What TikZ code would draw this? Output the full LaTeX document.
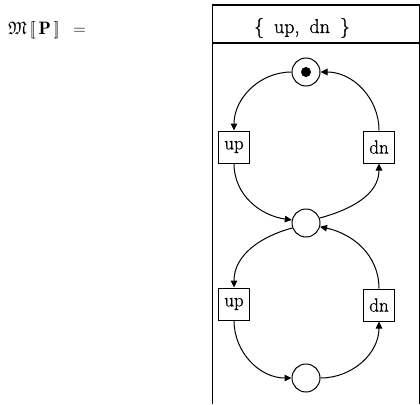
\documentclass[tikz,border=0pt]{standalone}
\usepackage{amssymb}
\usepackage{fontspec}
\newfontfamily\heavylm{Latin Modern Roman}[FakeBold=0.9]
\usetikzlibrary{arrows.meta}
\begin{document}
\begin{tikzpicture}[x=1pt,y=-1pt,
  place/.style={circle,draw,line width=1pt,minimum size=28pt,inner sep=0pt},
  trans/.style={rectangle,draw,line width=1pt,minimum width=31pt,minimum height=32pt,inner sep=0pt,font=\heavylm\fontsize{19}{19}\selectfont},
  flow/.style={line width=1pt,-{Triangle[length=7pt,width=6.5pt]}},
  frameline/.style={line width=1.4pt},
  token/.style={circle,fill,inner sep=0pt,minimum size=10pt}]
\useasboundingbox (0,0) rectangle (420,404);
% title
\node[anchor=base west,inner sep=0pt,font=\fontsize{18}{18}\selectfont] (title) at (8,35)
  {$\mathfrak{M}\,[\![\,\mathbf{P}\,]\!]\enspace=$};
% frame
\coordinate (ftl) at (212,5);
\coordinate (ftr) at (420,5);
\coordinate (fhl) at (212,43);
\coordinate (fhr) at (420,43);
\coordinate (fbl) at (212,404);
\coordinate (fbr) at (419,404);
\coordinate (ftr2) at (419,5);
\draw[frameline] (ftl) -- (ftr);
\draw[frameline] (fhl) -- (fhr);
\draw[line width=1pt] (ftl) -- (fbl);
\draw[line width=1pt] (ftr2) -- (fbr);
\node[anchor=base,inner sep=0pt,font=\heavylm\fontsize{20}{20}\selectfont] (hdr) at (302,33)
  {\{\hspace{0.5em}up,\hspace{0.5em}dn\hspace{0.5em}\}};
% places
\node[place] (top) at (306,72) {};
\node[token] (tok) at (top.center) {};
\node[place] (mid) at (306,223) {};
\node[place] (bot) at (306,378) {};
% transitions
\node[trans] (up1) at (234,147) {up};
\node[trans] (dn1) at (379,147) {dn};
\node[trans] (up2) at (234,304) {up};
\node[trans] (dn2) at (379,305) {dn};
% upper loop
\draw[flow] (top.180) to[out=180,in=90] (up1.north);
\draw[flow] (up1.south) to[out=-90,in=172] (mid.168);
\draw[flow] (mid.20) to[out=15,in=-90] (dn1.south);
\draw[flow] (dn1.north) to[out=90,in=0] (top.0);
% lower loop
\draw[flow] (mid.200) to[out=195,in=90] (up2.north);
\draw[flow] (up2.south) to[out=-90,in=180] (bot.180);
\draw[flow] (bot.0) to[out=0,in=-90] (dn2.south);
\draw[flow] (dn2.north) to[out=90,in=-12] (mid.-15);
\end{tikzpicture}
\end{document}
